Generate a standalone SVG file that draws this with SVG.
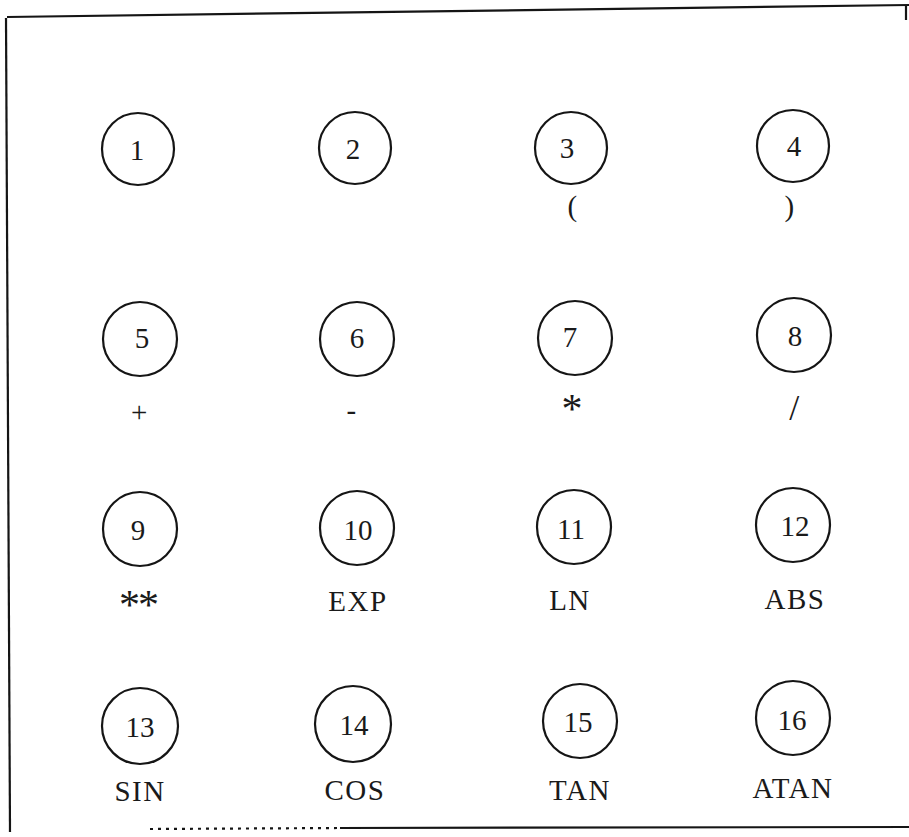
<svg xmlns="http://www.w3.org/2000/svg" width="909" height="837" viewBox="0 0 909 837">
<style>
.c{fill:none;stroke:#151515;stroke-width:2.2}
.n{font-family:"Liberation Serif","DejaVu Serif",serif;font-size:29px;fill:#1a1a1a;text-anchor:middle;dominant-baseline:central}
.l{font-family:"Liberation Serif","DejaVu Serif",serif;font-size:29px;fill:#1a1a1a;text-anchor:middle;letter-spacing:1.5px}
.a{font-family:"Liberation Serif","DejaVu Serif",serif;font-size:42px;fill:#1a1a1a;text-anchor:middle;letter-spacing:-2px}
.b{fill:none;stroke:#151515;stroke-width:2.2}
</style>
<rect width="909" height="837" fill="#fff"/>
<g id="border">
<path class="b" d="M7,17 L909,5"/>
<path class="b" d="M906,5 L906,20"/>
<path class="b" d="M6,18 L10,832"/>
<path class="b" d="M340,828 L909,827"/>
<path class="b" d="M150,829 L340,828" stroke-dasharray="3 5" stroke-width="1.2"/>
</g>
<g id="connectors"></g>
<g id="n1"><circle class="c" cx="138" cy="149" r="36"/><text class="n" x="137" y="150">1</text></g>
<g id="n2"><circle class="c" cx="355" cy="148" r="36"/><text class="n" x="353" y="149">2</text></g>
<g id="n3"><circle class="c" cx="571" cy="148" r="36"/><text class="n" x="567" y="148">3</text><text class="l" x="573" y="216">(</text></g>
<g id="n4"><circle class="c" cx="793" cy="146" r="36"/><text class="n" x="794" y="146">4</text><text class="l" x="790" y="216">)</text></g>
<g id="n5"><circle class="c" cx="140" cy="339" r="37"/><text class="n" x="142" y="338">5</text><text class="l" x="140" y="422">+</text></g>
<g id="n6"><circle class="c" cx="357" cy="339" r="37"/><text class="n" x="357" y="338">6</text><text class="l" x="352" y="420">-</text></g>
<g id="n7"><circle class="c" cx="575" cy="338" r="37"/><text class="n" x="570" y="337">7</text><text class="a" x="571" y="423">*</text></g>
<g id="n8"><circle class="c" cx="794" cy="335" r="37"/><text class="n" x="795" y="336">8</text><text class="l" x="795" y="420" style="font-size:36px">/</text></g>
<g id="n9"><circle class="c" cx="140" cy="529" r="37"/><text class="n" x="138" y="530">9</text><text class="a" x="138" y="619">**</text></g>
<g id="n10"><circle class="c" cx="357" cy="528" r="37"/><text class="n" x="358" y="530">10</text><text class="l" x="358" y="611">EXP</text></g>
<g id="n11"><circle class="c" cx="574" cy="527" r="37"/><text class="n" x="571" y="529">11</text><text class="l" x="570" y="610">LN</text></g>
<g id="n12"><circle class="c" cx="793" cy="525" r="37"/><text class="n" x="795" y="526">12</text><text class="l" x="795" y="609">ABS</text></g>
<g id="n13"><circle class="c" cx="140" cy="726" r="38"/><text class="n" x="140" y="727">13</text><text class="l" x="140" y="801">SIN</text></g>
<g id="n14"><circle class="c" cx="353" cy="724" r="38"/><text class="n" x="354" y="725">14</text><text class="l" x="355" y="800">COS</text></g>
<g id="n15"><circle class="c" cx="580" cy="721" r="37"/><text class="n" x="578" y="722">15</text><text class="l" x="580" y="800">TAN</text></g>
<g id="n16"><circle class="c" cx="793" cy="718" r="37"/><text class="n" x="792" y="720">16</text><text class="l" x="793" y="798">ATAN</text></g>
</svg>
